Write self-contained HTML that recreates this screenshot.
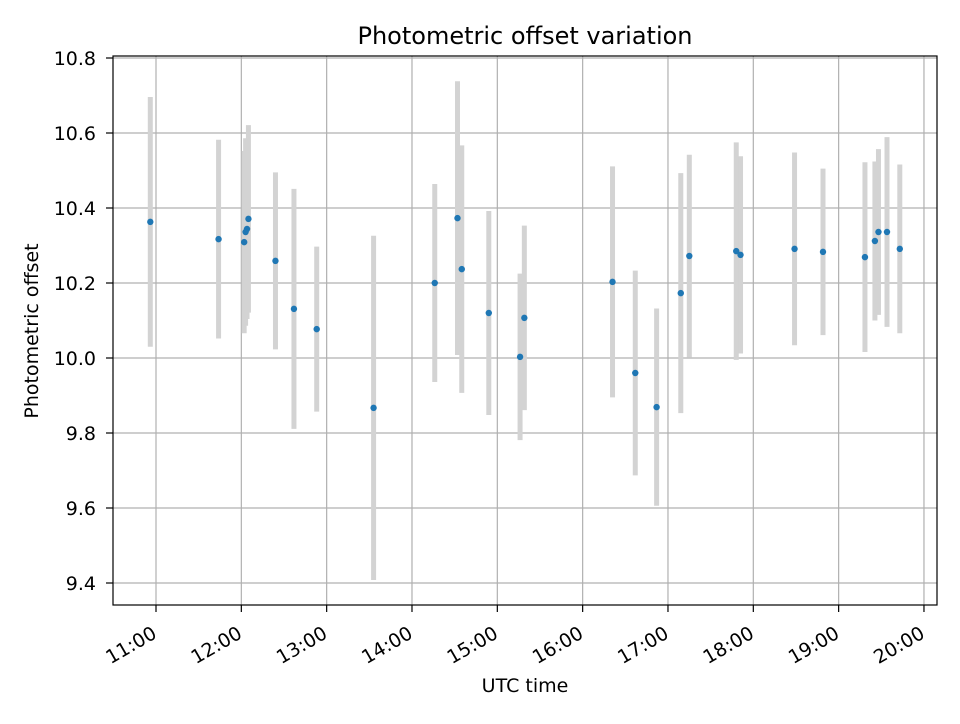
<!DOCTYPE html>
<html><head><meta charset="utf-8"><style>
body{margin:0;background:#fff;font-family:"DejaVu Sans","Liberation Sans",sans-serif}
</style></head><body>
<svg id="chart" width="960" height="720" xmlns="http://www.w3.org/2000/svg" font-family="DejaVu Sans, Liberation Sans, sans-serif">
<rect width="960" height="720" fill="#fff"/>
<g id="grid"></g>
<g id="bars"></g>
<g id="pts"></g>
<rect x="113" y="56" width="824" height="549" fill="none" stroke="#000" stroke-width="1.2"/>
<g id="axes"></g>
<text x="525" y="44" text-anchor="middle" font-size="24">Photometric offset variation</text>
<text x="525" y="692" text-anchor="middle" font-size="19">UTC time</text>
<text transform="translate(38,331) rotate(-90)" text-anchor="middle" font-size="19">Photometric offset</text>
</svg>
<script>
const times=["10:56","11:44","12:02","12:03","12:04","12:05","12:24","12:37","12:53","13:33","14:16","14:32","14:35","14:54","15:16","15:19","16:21","16:37","16:52","17:09","17:15","17:48","17:51","18:29","18:49","19:18.5","19:25.5","19:28","19:34","19:43"];
const offsets=[10.363,10.317,10.309,10.336,10.344,10.371,10.259,10.131,10.077,9.867,10.2,10.373,10.237,10.12,10.003,10.107,10.203,9.96,9.869,10.173,10.272,10.285,10.275,10.291,10.283,10.269,10.312,10.336,10.336,10.291];
const errors=[0.333,0.265,0.243,0.25,0.24,0.25,0.236,0.32,0.22,0.459,0.264,0.365,0.33,0.272,0.222,0.246,0.308,0.273,0.263,0.32,0.27,0.29,0.263,0.257,0.222,0.253,0.212,0.221,0.253,0.225];
const xTicks=["11:00","12:00","13:00","14:00","15:00","16:00","17:00","18:00","19:00","20:00"];
const yTicks=[9.4,9.6,9.8,10.0,10.2,10.4,10.6,10.8];
const NS="http://www.w3.org/2000/svg";
function toMin(s){const p=s.split(":");return +p[0]*60+ +p[1];}
const x0=113,x1=937,y0=605,y1=56;
function X(t){return 156+(toMin(t)-660)/60*85.33;}
function Y(v){return 358-(v-10)*375;}
function mk(tag,attrs,parent){const e=document.createElementNS(NS,tag);for(const k in attrs)e.setAttribute(k,attrs[k]);document.getElementById(parent).appendChild(e);return e;}
xTicks.forEach(t=>{const x=X(t);
 const g=mk("line",{x1:x,x2:x,y1:y1,y2:y0,stroke:"#b0b0b0","stroke-width":1.2},"grid");
 
 
 const tk=mk("line",{x1:x,x2:x,y1:y0,y2:y0+7,stroke:"#000","stroke-width":1.2},"axes");
 
 
 const tx=mk("text",{transform:`translate(${x+2},${y0+32}) rotate(-30)`,"text-anchor":"end","font-size":"19"},"axes");
 tx.textContent=t;
 
 
});
yTicks.forEach(v=>{const y=Y(v);
 const g=mk("line",{x1:x0,x2:x1,y1:y,y2:y,stroke:"#b0b0b0","stroke-width":1.2},"grid");
 
 
 const tk=mk("line",{x1:x0-7,x2:x0,y1:y,y2:y,stroke:"#000","stroke-width":1.2},"axes");
 
 
 const tx=mk("text",{x:x0-17,y:y+7,"text-anchor":"end","font-size":"19"},"axes");
 tx.textContent=v.toFixed(1);
 
 
});
times.forEach((t,i)=>{const x=X(t);
 const b=mk("line",{x1:x,x2:x,y1:Y(offsets[i]+errors[i]),y2:Y(offsets[i]-errors[i]),stroke:"#d3d3d3","stroke-width":5},"bars");
 
 
});
times.forEach((t,i)=>{
 const c=mk("circle",{cx:X(t),cy:Y(offsets[i]),r:3.2,fill:"#1f77b4"},"pts");
 
 
});
</script>
</body></html>
